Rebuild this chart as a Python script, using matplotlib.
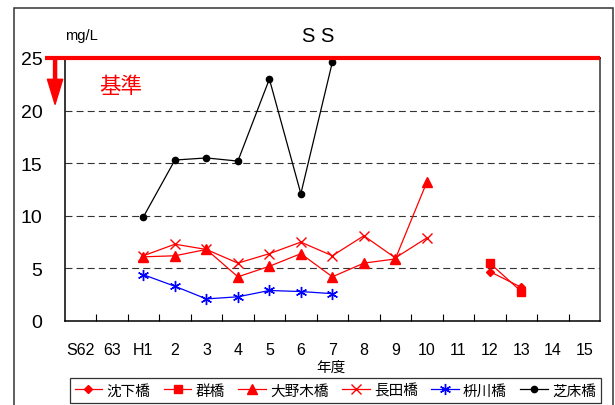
import matplotlib
matplotlib.use("Agg")
import matplotlib.pyplot as plt
from matplotlib.patches import Rectangle
import numpy as np

plt.rcParams["font.family"] = ["Liberation Sans", "Noto Sans CJK JP", "DejaVu Sans"]
plt.rcParams["lines.scale_dashes"] = False

# ── Data ─────────────────────────────────────────────────────────────────────
years = ["S62", "63", "H1", "2", "3", "4", "5", "6", "7", "8",
         "9", "10", "11", "12", "13", "14", "15"]
nan = np.nan
chinkabashi = [nan, nan, nan, nan, nan, nan, nan, nan, nan, nan,
               nan, nan, nan, 4.7, 3.2, nan, nan]          # 沈下橋
murebashi = [nan, nan, nan, nan, nan, nan, nan, nan, nan, nan,
             nan, nan, nan, 5.5, 2.8, nan, nan]            # 群橋
oonogibashi = [nan, nan, 6.1, 6.2, 6.8, 4.2, 5.2, 6.4, 4.2, 5.5,
               5.9, 13.2, nan, nan, nan, nan, nan]         # 大野木橋
nagatabashi = [nan, nan, 6.2, 7.3, 6.8, 5.5, 6.4, 7.5, 6.2, 8.1,
               6.0, 7.9, nan, nan, nan, nan, nan]          # 長田橋
masukawabashi = [nan, nan, 4.4, 3.3, 2.1, 2.3, 2.9, 2.8, 2.6, nan,
                 nan, nan, nan, nan, nan, nan, nan]        # 枡川橋
shibatokobashi = [nan, nan, 9.9, 15.3, 15.5, 15.2, 23.0, 12.1, 24.6, nan,
                  nan, nan, nan, nan, nan, nan, nan]       # 芝床橋
STANDARD = 25  # 基準値

x = np.arange(len(years))

# ── Figure ───────────────────────────────────────────────────────────────────
fig = plt.figure(figsize=(6.15, 4.06), dpi=100)
ax = fig.add_axes([0.1052, 0.2069, 0.8704, 0.6478])

RED = "#ff0000"
BLUE = "#0000ff"

def draw(vals, **kw):
    v = np.array(vals, dtype=float)
    m = ~np.isnan(v)
    return ax.plot(x[m], v[m], linewidth=0.9, **kw)[0]

h1 = draw(chinkabashi, color=RED, marker="D", markersize=4.5, label="沈下橋")
h2 = draw(murebashi, color=RED, marker="s", markersize=6, label="群橋")
h3 = draw(oonogibashi, color=RED, marker="^", markersize=7, label="大野木橋")
h4 = draw(nagatabashi, color=RED, marker="x", markersize=7, mew=1, label="長田橋")
h5 = draw(masukawabashi, color=BLUE, marker=(6, 2, 0), markersize=8, mew=1,
          label="枡川橋")
h6 = draw(shibatokobashi, color="black", marker="o", markersize=4.5, label="芝床橋")

# standard line at 25 extended to the left, plus downward arrow
ax.plot([-0.037, 1.0], [STANDARD, STANDARD], color=RED, linewidth=3,
        transform=ax.get_yaxis_transform(), clip_on=False, zorder=5,
        solid_capstyle="butt")
ax.annotate("", xy=(-0.018, 20.6), xytext=(-0.018, STANDARD),
            xycoords=ax.get_yaxis_transform(), textcoords=ax.get_yaxis_transform(),
            annotation_clip=False,
            arrowprops=dict(facecolor=RED, edgecolor=RED, width=2.2,
                            headwidth=11, headlength=18, shrink=0))
ax.text(0.065, 22.3, "基準", color=RED, fontsize=15.5,
        transform=ax.get_yaxis_transform(), ha="left", va="center",
        family=["Noto Sans CJK JP"])

# ── Axes ─────────────────────────────────────────────────────────────────────
ax.set_xlim(-0.5, len(years) - 0.5)
ax.set_ylim(0, 25)
ax.set_yticks(np.arange(0, 26, 5))
ax.tick_params(axis="y", length=0, pad=16, labelsize=14)
ax.set_xticks(x)
ax.set_xticklabels(years)
ax.set_xticks(x[:-1] + 0.5, minor=True)
ax.tick_params(axis="x", which="major", length=0, pad=15, labelsize=11.5)
ax.tick_params(axis="x", which="minor", direction="in", length=5, width=0.8)

ax.yaxis.grid(True, color="#333333", linewidth=0.8, linestyle=(0, (5, 3)))
ax.set_axisbelow(True)
for s in ["left", "bottom", "right", "top"]:
    ax.spines[s].set_linewidth(1.1)
    ax.spines[s].set_color("black")
ax.spines["right"].set_color("#333333")

ax.set_xlabel("年度", fontsize=10.5)
ax.xaxis.set_label_coords(0.4975, -0.148)

fig.text(0.1057, 0.911, "mg/L", fontsize=10.5, ha="left", va="center")
fig.text(0.517, 0.911, "S S", fontsize=14.5, ha="center", va="center")

# outer frame
fig.add_artist(Rectangle((0.0228, -0.02), 0.9740, 0.998, transform=fig.transFigure,
                         fill=False, edgecolor="#333333", linewidth=1.1))

leg = fig.legend(handles=[h1, h2, h3, h4, h5, h6], loc="center",
                 bbox_to_anchor=(0.5452, 0.0357), ncol=6, fontsize=10.5,
                 frameon=True, fancybox=False, edgecolor="black",
                 handlelength=1.9, handletextpad=0.3, columnspacing=0.9,
                 borderpad=0.35, borderaxespad=0)
leg.get_frame().set_linewidth(0.9)

fig.savefig("out.png", dpi=100, facecolor="white")
